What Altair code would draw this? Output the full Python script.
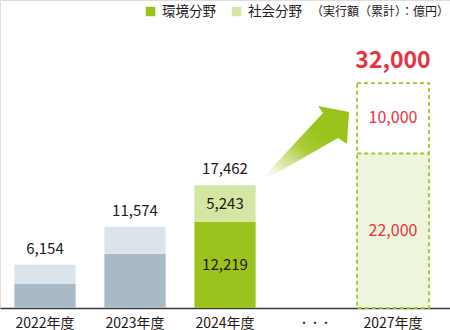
import altair as alt
import pandas as pd

# ---- data ----
categories = ["2022年度", "2023年度", "2024年度", "・・・", "2027年度"]
env_values = [3414, 7724, 12219, None, 22000]     # 環境分野 (bottom segment)
soc_values = [2740, 3850, 5243, None, 10000]      # 社会分野 (top segment)
totals = [6154, 11574, 17462, None, 32000]
inner_label = [False, False, True, False, True]
series_names = ["環境分野", "社会分野"]
unit_note = "（実行額（累計）：億円）"

FONT = "Noto Sans CJK JP"
TXT = "#231815"
RED = "#e8333f"

rows = []
for i, c in enumerate(categories):
    if env_values[i] is None:
        continue
    if c == "2027年度":
        kinds = ("plan_env", "plan_soc")
    elif inner_label[i]:
        kinds = ("env", "soc")
    else:
        kinds = ("past_env", "past_soc")
    rows.append(dict(cat=c, seg=series_names[0], value=env_values[i], order=0,
                     kind=kinds[0], show=inner_label[i],
                     label=f"{env_values[i]:,}"))
    rows.append(dict(cat=c, seg=series_names[1], value=soc_values[i], order=1,
                     kind=kinds[1], show=inner_label[i],
                     label=f"{soc_values[i]:,}"))
df = pd.DataFrame(rows)

tot_df = pd.DataFrame({"cat": categories, "total": totals}).dropna()
tot_df["label"] = tot_df["total"].map(lambda v: f"{int(v):,}")
cat_df = pd.DataFrame({"cat": categories})

kind_domain = ["past_env", "past_soc", "env", "soc", "plan_env", "plan_soc"]
kind_range = ["#a7bac5", "#dbe4ea", "#9bc31c", "#d4e6a4", "#eef5dd", "#ffffff"]

xscale = alt.Scale(domain=categories, paddingInner=0.32, paddingOuter=0.16)
yscale = alt.Scale(domain=[0, 43810], nice=False, zero=False)
X = alt.X("cat:N", scale=xscale,
          axis=alt.Axis(labels=False, ticks=False, grid=False, title=None,
                        domainColor="#3a3a3a", domainWidth=1.6))

base = alt.Chart(df).transform_stack(
    stack="value", as_=["y0", "y1"], groupby=["cat"],
    sort=[alt.SortField("order", order="ascending")]
).transform_calculate(mid="(datum.y0 + datum.y1) / 2")

color = alt.Color("kind:N", scale=alt.Scale(domain=kind_domain, range=kind_range), legend=None)

past_bars = base.transform_filter("datum.cat !== '2027年度'").mark_bar(opacity=1).encode(
    x=X, y=alt.Y("y1:Q", scale=yscale, axis=None), y2="y0", color=color)

plan_bars = base.transform_filter("datum.cat === '2027年度'").mark_bar(
    opacity=1, width=72, xOffset=-12, stroke="#9dc72b", strokeWidth=1.8,
    strokeDash=[4, 3]).encode(
    x=X, y=alt.Y("y1:Q", scale=yscale, axis=None), y2="y0", color=color)

inner_past = base.transform_filter("datum.show && datum.cat !== '2027年度'").mark_text(
    font=FONT, fontSize=15, color=TXT, baseline="middle").encode(
    x=X, y=alt.Y("mid:Q", scale=yscale, axis=None), text="label:N")

inner_plan = base.transform_filter("datum.cat === '2027年度'").mark_text(
    font=FONT, fontSize=16, color=RED, baseline="middle", xOffset=-12).encode(
    x=X, y=alt.Y("mid:Q", scale=yscale, axis=None), text="label:N")

tot_past = alt.Chart(tot_df).transform_filter("datum.cat !== '2027年度'").mark_text(
    font=FONT, fontSize=15, color=TXT, baseline="alphabetic", dy=-11).encode(
    x=X, y=alt.Y("total:Q", scale=yscale, axis=None), text="label:N")

tot_plan = alt.Chart(tot_df).transform_filter("datum.cat === '2027年度'").mark_text(
    font=FONT, fontSize=23, fontWeight="bold", color=RED, baseline="alphabetic",
    dy=-15, xOffset=-12).encode(
    x=X, y=alt.Y("total:Q", scale=yscale, axis=None), text="label:N")

# category labels (drawn below the axis line)
lab_main = alt.Chart(cat_df).transform_filter(
    "datum.cat !== '2027年度' && datum.cat !== '・・・'").mark_text(
    font=FONT, fontSize=14, color=TXT, baseline="alphabetic").encode(
    x=X, y=alt.value(327.5), text="cat:N")
lab_dots = alt.Chart(cat_df).transform_filter("datum.cat === '・・・'").mark_text(
    font=FONT, fontSize=11, color=TXT, baseline="alphabetic").encode(
    x=X, y=alt.value(327), text="cat:N")
lab_plan = alt.Chart(cat_df).transform_filter("datum.cat === '2027年度'").mark_text(
    font=FONT, fontSize=14, color=TXT, baseline="alphabetic", xOffset=-12).encode(
    x=X, y=alt.value(327.5), text="cat:N")

# arrow (decoration)
arrow_path = ("M -0.981 0.777 L 0.372 -0.674 L 0.256 -0.837 L 0.977 -0.698 "
              "L 0.930 0.047 L 0.721 -0.093 L -0.926 0.851 Z")
grad = alt.LinearGradient(
    gradient="linear", x1=0, y1=1, x2=1, y2=0,
    stops=[alt.GradientStop(color="#ffffff", offset=0),
           alt.GradientStop(color="#eef5d8", offset=0.12),
           alt.GradientStop(color="#a8cb36", offset=0.45),
           alt.GradientStop(color="#9bc31c", offset=0.65),
           alt.GradientStop(color="#9bc31c", offset=1)])
arrow = alt.Chart(cat_df.head(1)).mark_point(
    shape=arrow_path, size=7396, filled=True, fill=grad, strokeWidth=0, opacity=1
).encode(x=alt.value(307), y=alt.value(142))

# legend (decoration)
leg = alt.Chart(cat_df.head(1))
leg_sq1 = leg.mark_square(size=90, color="#9bc31c", opacity=1).encode(
    x=alt.value(150.5), y=alt.value(11.5))
leg_sq2 = leg.mark_square(size=90, color="#d4e6a4", opacity=1).encode(
    x=alt.value(236.5), y=alt.value(11.5))
leg_t1 = leg.mark_text(font=FONT, fontSize=13.5, color=TXT, align="left",
                       baseline="middle", text=series_names[0]).encode(
    x=alt.value(162), y=alt.value(12))
leg_t2 = leg.mark_text(font=FONT, fontSize=13.5, color=TXT, align="left",
                       baseline="middle", text=series_names[1]).encode(
    x=alt.value(248), y=alt.value(12))
leg_t3 = leg.mark_text(font=FONT, fontSize=12, color=TXT, align="right",
                       baseline="middle", text=unit_note).encode(
    x=alt.value(449), y=alt.value(12))

chart = alt.layer(
    past_bars, plan_bars, inner_past, inner_plan, tot_past, tot_plan,
    lab_main, lab_dots, lab_plan, arrow,
    leg_sq1, leg_sq2, leg_t1, leg_t2, leg_t3
).properties(
    width=450, height=308,
    autosize=alt.AutoSizeParams(type="none"),
    padding={"left": 0, "right": 0, "top": 0, "bottom": 22},
).configure_view(stroke=None).configure(font=FONT, background="white")

chart.save("out.html", embed_options={"renderer": "svg", "actions": False})
